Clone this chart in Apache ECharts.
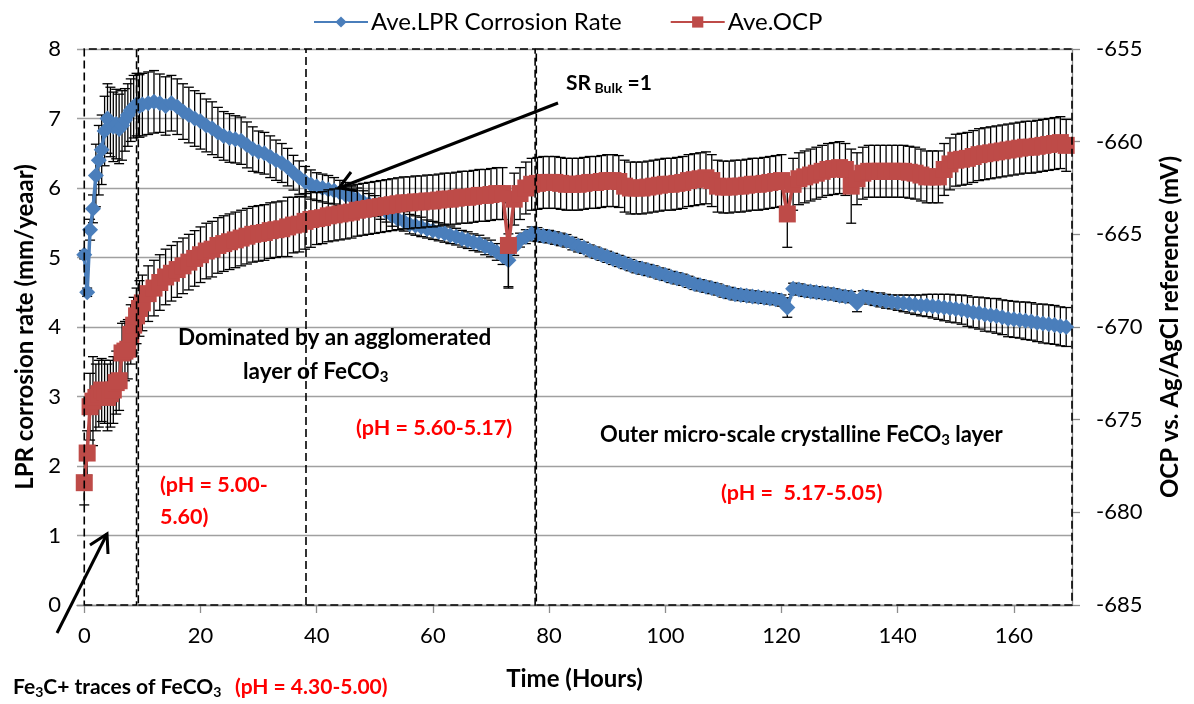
<!DOCTYPE html>
<html><head><meta charset="utf-8">
<script src="https://cdn.jsdelivr.net/npm/echarts@6/dist/echarts.min.js"></script>
<style>html,body{margin:0;padding:0;background:#fff}#c{width:1194px;height:704px}</style>
</head><body><div id="c"></div>
<script>
// Time (hours)
const TIME = [
  0,0.5,1,1.5,2,2.5,3,3.5,4,4.5,
  5,5.5,6,6.5,7,7.5,8,8.5,9,9.5,
  10,11,12,13,14,15,16,17,18,19,
  20,21,22,23,24,25,26,27,28,29,
  30,31,32,33,34,35,36,37,38,39,
  40,41,42,43,44,45,46,47,48,49,
  50,51,52,53,54,55,56,57,58,59,
  60,61,62,63,64,65,66,67,68,69,
  70,71,72,73,74,75,76,77,78,79,
  80,81,82,83,84,85,86,87,88,89,
  90,91,92,93,94,95,96,97,98,99,
  100,101,102,103,104,105,106,107,108,109,
  110,111,112,113,114,115,116,117,118,119,
  120,121,122,123,124,125,126,127,128,129,
  130,131,132,133,134,135,136,137,138,139,
  140,141,142,143,144,145,146,147,148,149,
  150,151,152,153,154,155,156,157,158,159,
  160,161,162,163,164,165,166,167,168,169
];
// Ave. LPR corrosion rate (mm/y)
const LPR = [
  5.04,4.50,5.40,5.70,6.18,6.40,6.55,6.82,7.00,6.95,
  6.88,6.92,6.85,6.90,6.98,7.05,7.12,7.17,7.20,7.18,
  7.20,7.22,7.24,7.22,7.18,7.22,7.17,7.10,7.05,7.00,
  6.96,6.90,6.86,6.80,6.75,6.72,6.70,6.68,6.62,6.56,
  6.52,6.50,6.45,6.40,6.36,6.30,6.22,6.15,6.09,6.05,
  6.02,6.00,5.98,5.96,5.93,5.90,5.87,5.84,5.80,5.77,
  5.74,5.70,5.66,5.60,5.55,5.52,5.48,5.46,5.44,5.41,
  5.39,5.37,5.35,5.32,5.30,5.27,5.25,5.22,5.20,5.16,
  5.13,5.08,5.02,4.96,5.15,5.25,5.30,5.34,5.33,5.31,
  5.30,5.28,5.26,5.24,5.20,5.17,5.14,5.10,5.07,5.04,
  5.01,4.98,4.95,4.92,4.89,4.86,4.84,4.82,4.80,4.77,
  4.75,4.72,4.70,4.68,4.65,4.62,4.60,4.58,4.56,4.54,
  4.51,4.49,4.47,4.46,4.45,4.44,4.43,4.42,4.41,4.40,
  4.38,4.28,4.55,4.54,4.52,4.51,4.50,4.49,4.48,4.47,
  4.45,4.44,4.43,4.34,4.44,4.42,4.40,4.39,4.37,4.36,
  4.35,4.34,4.33,4.32,4.31,4.31,4.30,4.29,4.28,4.27,
  4.26,4.25,4.23,4.21,4.20,4.18,4.17,4.16,4.14,4.12,
  4.11,4.10,4.09,4.08,4.06,4.05,4.04,4.03,4.01,4.00
];
// LPR error bar (+/-, mm/y)
const LPR_ERR = [
  0.06,0.06,0.15,0.2,0.45,0.5,0.5,0.5,0.5,0.5,
  0.5,0.5,0.5,0.5,0.45,0.45,0.45,0.45,0.45,0.45,
  0.45,0.45,0.45,0.42,0.42,0.4,0.4,0.4,0.4,0.4,
  0.4,0.38,0.38,0.36,0.35,0.35,0.34,0.34,0.33,0.32,
  0.3,0.3,0.3,0.29,0.28,0.27,0.25,0.24,0.22,0.21,
  0.2,0.2,0.2,0.19,0.18,0.18,0.17,0.16,0.16,0.15,
  0.15,0.15,0.15,0.15,0.15,0.14,0.14,0.14,0.14,0.13,
  0.13,0.13,0.13,0.12,0.12,0.12,0.12,0.12,0.12,0.12,
  0.12,0.12,0.12,0.38,0.12,0.1,0.1,0.1,0.1,0.09,
  0.09,0.09,0.09,0.09,0.09,0.09,0.08,0.08,0.08,0.08,
  0.08,0.08,0.08,0.08,0.08,0.08,0.08,0.08,0.08,0.08,
  0.08,0.08,0.08,0.08,0.08,0.08,0.08,0.08,0.08,0.08,
  0.08,0.08,0.08,0.08,0.08,0.08,0.08,0.08,0.08,0.08,
  0.08,0.14,0.08,0.08,0.08,0.08,0.08,0.08,0.08,0.08,
  0.08,0.08,0.08,0.12,0.08,0.09,0.09,0.1,0.1,0.1,
  0.11,0.12,0.13,0.14,0.15,0.16,0.17,0.18,0.19,0.2,
  0.2,0.21,0.22,0.22,0.23,0.24,0.24,0.25,0.25,0.26,
  0.26,0.26,0.27,0.27,0.27,0.28,0.28,0.28,0.28,0.28
];
// Ave. OCP (mV vs Ag/AgCl)
const OCP = [
  -678.4,-676.8,-674.3,-674.0,-673.8,-673.6,-673.4,-673.5,-673.8,-673.6,
  -673.4,-673.0,-672.9,-671.4,-671.3,-671.2,-670.4,-669.9,-669.4,-669.0,
  -668.7,-668.2,-667.9,-667.6,-667.3,-667.1,-666.9,-666.7,-666.5,-666.3,
  -666.1,-665.9,-665.8,-665.6,-665.5,-665.4,-665.3,-665.2,-665.1,-665.0,
  -664.95,-664.9,-664.8,-664.75,-664.7,-664.6,-664.5,-664.45,-664.3,-664.2,
  -664.15,-664.1,-664.0,-663.95,-663.9,-663.85,-663.8,-663.7,-663.65,-663.6,
  -663.55,-663.5,-663.45,-663.4,-663.35,-663.3,-663.3,-663.25,-663.25,-663.2,
  -663.2,-663.15,-663.1,-663.1,-663.05,-663.0,-663.0,-662.95,-662.9,-662.9,
  -662.85,-662.8,-662.8,-665.6,-663.1,-662.8,-662.5,-662.3,-662.25,-662.2,
  -662.2,-662.2,-662.25,-662.3,-662.3,-662.3,-662.25,-662.2,-662.2,-662.15,
  -662.1,-662.1,-662.15,-662.4,-662.5,-662.5,-662.5,-662.45,-662.4,-662.35,
  -662.3,-662.3,-662.25,-662.2,-662.1,-662.05,-662.0,-661.95,-662.1,-662.4,
  -662.45,-662.45,-662.4,-662.4,-662.35,-662.3,-662.3,-662.25,-662.2,-662.15,
  -662.1,-663.9,-662.3,-662.0,-661.9,-661.8,-661.7,-661.6,-661.5,-661.45,
  -661.4,-661.5,-662.4,-662.0,-661.7,-661.6,-661.6,-661.6,-661.6,-661.6,
  -661.6,-661.6,-661.65,-661.7,-661.8,-661.9,-661.9,-661.9,-661.5,-661.2,
  -661.0,-660.95,-660.9,-660.8,-660.7,-660.65,-660.6,-660.55,-660.5,-660.45,
  -660.4,-660.35,-660.3,-660.3,-660.25,-660.2,-660.15,-660.1,-660.05,-660.2
];
// OCP error bar (+/-, mV)
const OCP_ERR = [
  1.2,1.2,1.8,2.4,1.8,1.8,1.7,1.7,1.8,1.8,
  1.8,1.7,1.6,1.6,1.6,1.6,1.6,1.5,1.5,1.5,
  1.5,1.5,1.5,1.5,1.5,1.5,1.5,1.5,1.5,1.5,
  1.5,1.5,1.5,1.5,1.5,1.5,1.5,1.5,1.5,1.5,
  1.5,1.5,1.5,1.5,1.5,1.6,1.5,1.5,1.5,1.5,
  1.4,1.4,1.4,1.4,1.4,1.4,1.4,1.4,1.4,1.4,
  1.4,1.4,1.4,1.4,1.4,1.4,1.4,1.4,1.4,1.4,
  1.4,1.4,1.4,1.4,1.4,1.4,1.4,1.4,1.4,1.4,
  1.4,1.4,1.4,2.3,1.4,1.4,1.4,1.4,1.4,1.4,
  1.4,1.4,1.4,1.4,1.4,1.4,1.4,1.4,1.4,1.4,
  1.4,1.4,1.4,1.4,1.4,1.4,1.4,1.4,1.4,1.4,
  1.4,1.4,1.4,1.4,1.4,1.4,1.4,1.4,1.4,1.4,
  1.4,1.4,1.4,1.4,1.4,1.4,1.4,1.4,1.4,1.4,
  1.4,1.8,1.4,1.4,1.4,1.4,1.4,1.4,1.4,1.4,
  1.4,1.4,2.0,1.4,1.4,1.4,1.4,1.4,1.4,1.4,
  1.4,1.4,1.4,1.4,1.4,1.4,1.4,1.4,1.4,1.4,
  1.4,1.4,1.4,1.4,1.4,1.4,1.4,1.4,1.4,1.4,
  1.4,1.4,1.4,1.4,1.4,1.4,1.4,1.4,1.4,1.4
];
const X_TICKS = [0,20,40,60,80,100,120,140,160];
// Stage boxes (hours) and the inner stage divider
const STAGE_BOXES = [[0, 9.0], [9.3, 77.6], [77.8, 170]];
const STAGE_DIVIDER = 38.2;

const FONT = 'Lato';
const BLUE = '#4A7EBB';
const RED = '#BE4B48';
const GRID_GRAY = '#a0a0a0';

function errBar(params, api) {
  const x = api.value(0);
  const top = api.coord([x, api.value(2)]);
  const bot = api.coord([x, api.value(1)]);
  const w = 5;
  const st = { stroke: '#000', lineWidth: 1.3 };
  return {
    type: 'group',
    children: [
      { type: 'line', shape: { x1: top[0], y1: top[1], x2: bot[0], y2: bot[1] }, style: st },
      { type: 'line', shape: { x1: top[0] - w, y1: top[1], x2: top[0] + w, y2: top[1] }, style: st },
      { type: 'line', shape: { x1: bot[0] - w, y1: bot[1], x2: bot[0] + w, y2: bot[1] }, style: st }
    ]
  };
}

const chart = echarts.init(document.getElementById('c'), null, { renderer: 'canvas' });

const boldTxt = (text, x, y, color, size, rich) => ({
  type: 'text', x: x, y: y, z: 100,
  style: {
    text: text, fill: color, fontFamily: FONT, fontWeight: 'bold', fontSize: size || 21,
    align: 'left', verticalAlign: 'middle', rich: rich || {}
  }
});
const subRich = (color, size) => ({
  s: { fill: color, fontFamily: FONT, fontWeight: 'bold', fontSize: size || 14, padding: [10, 0, 0, 0] }
});

const option = {
  animation: false,
  backgroundColor: '#fff',
  textStyle: { fontFamily: FONT },
  legend: {
    data: ['Ave.LPR Corrosion Rate', 'Ave.OCP'],
    left: 308, top: 5,
    itemWidth: 54, itemHeight: 14, itemGap: 48,
    textStyle: { fontFamily: FONT, fontSize: 24, color: '#000', padding: [0, 0, 0, -2] }
  },
  grid: { left: 77, right: 122, top: 49, bottom: 99 },
  xAxis: {
    type: 'value', min: -1.25, max: 170,
    axisLine: { show: true, lineStyle: { color: '#8c8c8c', width: 1.3 } },
    axisTick: { show: true, customValues: X_TICKS, length: 8, lineStyle: { color: '#8c8c8c', width: 1.3 } },
    axisLabel: { customValues: X_TICKS, fontFamily: FONT, fontSize: 22, color: '#000', margin: 20 },
    splitLine: { show: false },
    name: 'Time (Hours)', nameLocation: 'middle', nameGap: 62,
    nameTextStyle: { fontFamily: FONT, fontWeight: 'bold', fontSize: 24, color: '#000' }
  },
  yAxis: [
    {
      type: 'value', min: 0, max: 8, interval: 1, position: 'left',
      axisLine: { show: false }, axisTick: { show: false },
      axisLabel: { fontFamily: FONT, fontSize: 22, color: '#000', margin: 16 },
      splitLine: { show: true, lineStyle: { color: GRID_GRAY, width: 1.3 } },
      name: 'LPR corrosion rate (mm/yeaar)', nameLocation: 'middle', nameGap: 38, nameRotate: 90,
      nameTextStyle: { fontFamily: FONT, fontWeight: 'bold', fontSize: 24, color: '#000' }
    },
    {
      type: 'value', min: -685, max: -655, interval: 5, position: 'right',
      axisLine: { show: true, lineStyle: { color: '#8c8c8c', width: 1.3 } },
      axisTick: { show: true, length: 8, lineStyle: { color: '#8c8c8c', width: 1.3 } },
      axisLabel: { fontFamily: FONT, fontSize: 22, color: '#000', margin: 24 },
      splitLine: { show: false },
      name: 'OCP vs. Ag/AgCl reference (mV)', nameLocation: 'middle', nameGap: 86, nameRotate: 90,
      nameTextStyle: { fontFamily: FONT, fontWeight: 'bold', fontSize: 24, color: '#000' }
    }
  ],
  series: [
    {
      name: 'lprErr', type: 'custom', xAxisIndex: 0, yAxisIndex: 0, z: 1, silent: true,
      renderItem: errBar, encode: { x: 0, y: [1, 2] },
      data: TIME.map((t, i) => [t, LPR[i] - LPR_ERR[i], LPR[i] + LPR_ERR[i]])
    },
    {
      name: 'Ave.LPR Corrosion Rate', type: 'line', xAxisIndex: 0, yAxisIndex: 0, z: 2,
      data: TIME.map((t, i) => [t, LPR[i]]),
      symbol: 'diamond', symbolSize: 16, showSymbol: true, showAllSymbol: true,
      itemStyle: { color: BLUE }, lineStyle: { color: BLUE, width: 3.5 }
    },
    {
      name: 'ocpErr', type: 'custom', xAxisIndex: 0, yAxisIndex: 1, z: 3, silent: true,
      renderItem: errBar, encode: { x: 0, y: [1, 2] },
      data: TIME.map((t, i) => [t, OCP[i] - OCP_ERR[i], OCP[i] + OCP_ERR[i]])
    },
    {
      name: 'Ave.OCP', type: 'line', xAxisIndex: 0, yAxisIndex: 1, z: 4,
      data: TIME.map((t, i) => [t, OCP[i]]),
      symbol: 'rect', symbolSize: 17, showSymbol: true, showAllSymbol: true,
      itemStyle: { color: RED }, lineStyle: { color: RED, width: 3.5 }
    },
    {
      name: 'stages', type: 'line', xAxisIndex: 0, yAxisIndex: 0, z: 10, data: [], silent: true,
      markArea: {
        silent: true, z: 10,
        label: { show: false },
        itemStyle: { color: 'rgba(0,0,0,0)', borderColor: '#000', borderWidth: 1.6, borderType: [8, 4] },
        data: STAGE_BOXES.map(b => [{ xAxis: b[0], yAxis: 0 }, { xAxis: b[1], yAxis: 8 }])
      },
      markLine: {
        silent: true, z: 10, symbol: ['none', 'none'],
        label: { show: false },
        lineStyle: { color: '#000', width: 1.6, type: [8, 4] },
        data: [[{ coord: [STAGE_DIVIDER, 0] }, { coord: [STAGE_DIVIDER, 8] }]]
      }
    }
  ],
  graphic: [
    // SR Bulk = 1 arrow
    { type: 'line', z: 100, shape: { x1: 558, y1: 103, x2: 339, y2: 188 }, style: { stroke: '#000', lineWidth: 3 } },
    { type: 'polyline', z: 100, shape: { points: [[358, 191], [339, 188], [351, 172]] }, style: { stroke: '#000', lineWidth: 3, fill: null } },
    // Fe3C arrow
    { type: 'line', z: 100, shape: { x1: 57, y1: 633, x2: 107, y2: 534 }, style: { stroke: '#000', lineWidth: 3 } },
    { type: 'polyline', z: 100, shape: { points: [[90, 545], [107, 534], [108, 554]] }, style: { stroke: '#000', lineWidth: 3, fill: null } },
    boldTxt('SR{b| Bulk} =1', 566, 83, '#000', 21, { b: { fill: '#000', fontFamily: FONT, fontWeight: 'bold', fontSize: 14, padding: [10, 0, 0, 0] } }),
    boldTxt('Dominated by an agglomerated', 178, 338, '#000', 22.5),
    boldTxt('layer of FeCO{s|3}', 243, 372, '#000', 22.5, subRich('#000', 15)),
    boldTxt('(pH = 5.60-5.17)', 356, 428, '#ff0000', 21.5),
    boldTxt('Outer micro-scale crystalline FeCO{s|3} layer', 600, 435, '#000', 22, subRich('#000', 15)),
    boldTxt('(pH =  5.17-5.05)', 721, 493, '#ff0000', 21.5),
    boldTxt('(pH = 5.00-', 160, 485, '#ff0000', 21.5),
    boldTxt('5.60)', 160, 517, '#ff0000', 21.5),
    boldTxt('Fe{s|3}C+ traces of FeCO{s|3}', 13, 687, '#000', 21, subRich('#000')),
    boldTxt('(pH = 4.30-5.00)', 235, 687, '#ff0000')
  ]
};
chart.setOption(option);
</script>
</body></html>
